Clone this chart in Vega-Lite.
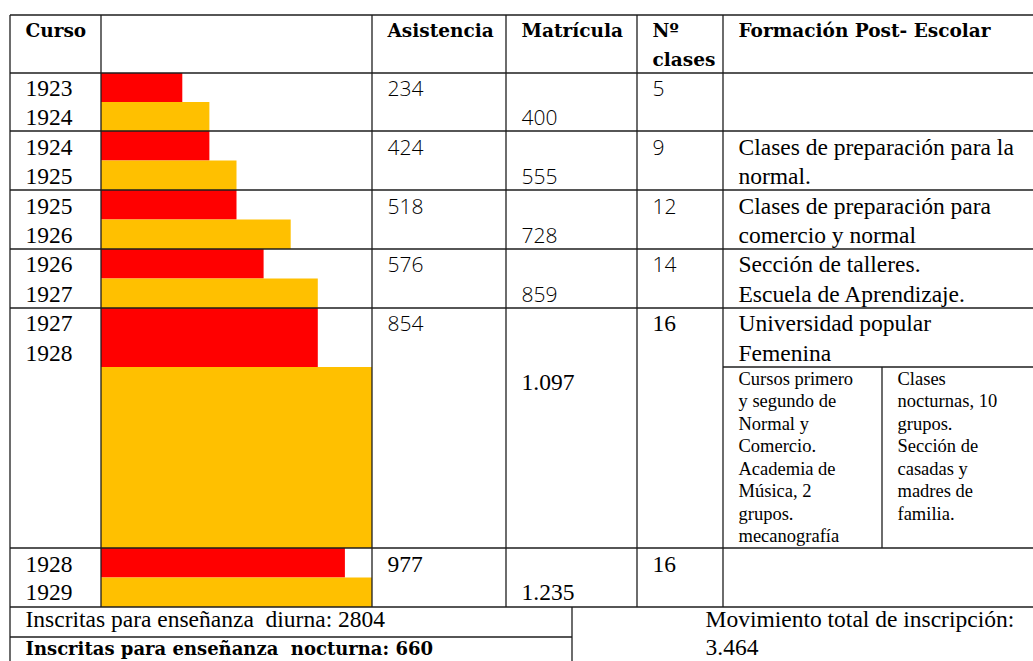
{
  "$schema": "https://vega.github.io/schema/vega-lite/v6.json",
  "width": 1033,
  "height": 661,
  "autosize": {"type": "none"},
  "padding": 0,
  "background": "white",
  "config": {"view": {"stroke": null}},
  "datasets": {
    "barras": [
      {"curso": "1923-1924", "serie": "Asistencia", "longitud": 3, "desde": 1, "hasta": 1.5},
      {"curso": "1923-1924", "serie": "Matrícula", "longitud": 4, "desde": 1.5, "hasta": 2},
      {"curso": "1924-1925", "serie": "Asistencia", "longitud": 4, "desde": 2, "hasta": 2.5},
      {"curso": "1924-1925", "serie": "Matrícula", "longitud": 5, "desde": 2.5, "hasta": 3},
      {"curso": "1925-1926", "serie": "Asistencia", "longitud": 5, "desde": 3, "hasta": 3.5},
      {"curso": "1925-1926", "serie": "Matrícula", "longitud": 7, "desde": 3.5, "hasta": 4},
      {"curso": "1926-1927", "serie": "Asistencia", "longitud": 6, "desde": 4, "hasta": 4.5},
      {"curso": "1926-1927", "serie": "Matrícula", "longitud": 8, "desde": 4.5, "hasta": 5},
      {"curso": "1927-1928", "serie": "Asistencia", "longitud": 8, "desde": 5, "hasta": 6},
      {"curso": "1927-1928", "serie": "Matrícula", "longitud": 10, "desde": 6, "hasta": 7},
      {"curso": "1928-1929", "serie": "Asistencia", "longitud": 9, "desde": 7, "hasta": 7.5},
      {"curso": "1928-1929", "serie": "Matrícula", "longitud": 10, "desde": 7.5, "hasta": 8}
    ],
    "lineas": [
      {"c1": 0, "c2": 9, "f1": 0, "f2": 0},
      {"c1": 0, "c2": 9, "f1": 1, "f2": 1},
      {"c1": 0, "c2": 9, "f1": 2, "f2": 2},
      {"c1": 0, "c2": 9, "f1": 3, "f2": 3},
      {"c1": 0, "c2": 9, "f1": 4, "f2": 4},
      {"c1": 0, "c2": 9, "f1": 5, "f2": 5},
      {"c1": 7, "c2": 9, "f1": 6, "f2": 6},
      {"c1": 0, "c2": 9, "f1": 7, "f2": 7},
      {"c1": 0, "c2": 9, "f1": 8, "f2": 8},
      {"c1": 0, "c2": 4, "f1": 9, "f2": 9},
      {"c1": 0, "c2": 0, "f1": 0, "f2": 10},
      {"c1": 1, "c2": 1, "f1": 0, "f2": 8},
      {"c1": 2, "c2": 2, "f1": 0, "f2": 8},
      {"c1": 3, "c2": 3, "f1": 0, "f2": 8},
      {"c1": 4, "c2": 4, "f1": 8, "f2": 10},
      {"c1": 5, "c2": 5, "f1": 0, "f2": 8},
      {"c1": 7, "c2": 7, "f1": 0, "f2": 8},
      {"c1": 8, "c2": 8, "f1": 6, "f2": 7}
    ],
    "celdas": [
      {"col": 0, "linea": 0, "texto": "Curso", "tipo": "encabezado"},
      {"col": 2, "linea": 0, "texto": "Asistencia", "tipo": "encabezado"},
      {"col": 3, "linea": 0, "texto": "Matrícula", "tipo": "encabezado"},
      {"col": 5, "linea": 0, "texto": "Nº", "tipo": "encabezado"},
      {"col": 5, "linea": 1, "texto": "clases", "tipo": "encabezado"},
      {"col": 7, "linea": 0, "texto": "Formación Post- Escolar", "tipo": "encabezado"},
      {"col": 0, "linea": 2, "texto": "1923", "tipo": "texto"},
      {"col": 0, "linea": 3, "texto": "1924", "tipo": "texto"},
      {"col": 2, "linea": 2, "texto": "234", "tipo": "cifra"},
      {"col": 3, "linea": 3, "texto": "400", "tipo": "cifra"},
      {"col": 5, "linea": 2, "texto": "5", "tipo": "cifra"},
      {"col": 0, "linea": 4, "texto": "1924", "tipo": "texto"},
      {"col": 0, "linea": 5, "texto": "1925", "tipo": "texto"},
      {"col": 2, "linea": 4, "texto": "424", "tipo": "cifra"},
      {"col": 3, "linea": 5, "texto": "555", "tipo": "cifra"},
      {"col": 5, "linea": 4, "texto": "9", "tipo": "cifra"},
      {"col": 7, "linea": 4, "texto": "Clases de preparación para la", "tipo": "texto"},
      {"col": 7, "linea": 5, "texto": "normal.", "tipo": "texto"},
      {"col": 0, "linea": 6, "texto": "1925", "tipo": "texto"},
      {"col": 0, "linea": 7, "texto": "1926", "tipo": "texto"},
      {"col": 2, "linea": 6, "texto": "518", "tipo": "cifra"},
      {"col": 3, "linea": 7, "texto": "728", "tipo": "cifra"},
      {"col": 5, "linea": 6, "texto": "12", "tipo": "cifra"},
      {"col": 7, "linea": 6, "texto": "Clases de preparación para", "tipo": "texto"},
      {"col": 7, "linea": 7, "texto": "comercio y normal", "tipo": "texto"},
      {"col": 0, "linea": 8, "texto": "1926", "tipo": "texto"},
      {"col": 0, "linea": 9, "texto": "1927", "tipo": "texto"},
      {"col": 2, "linea": 8, "texto": "576", "tipo": "cifra"},
      {"col": 3, "linea": 9, "texto": "859", "tipo": "cifra"},
      {"col": 5, "linea": 8, "texto": "14", "tipo": "cifra"},
      {"col": 7, "linea": 8, "texto": "Sección de talleres.", "tipo": "texto"},
      {"col": 7, "linea": 9, "texto": "Escuela de Aprendizaje.", "tipo": "texto"},
      {"col": 0, "linea": 10, "texto": "1927", "tipo": "texto"},
      {"col": 0, "linea": 11, "texto": "1928", "tipo": "texto"},
      {"col": 2, "linea": 10, "texto": "854", "tipo": "cifra"},
      {"col": 3, "linea": 12, "texto": "1.097", "tipo": "texto"},
      {"col": 5, "linea": 10, "texto": "16", "tipo": "texto"},
      {"col": 7, "linea": 10, "texto": "Universidad popular", "tipo": "texto"},
      {"col": 7, "linea": 11, "texto": "Femenina", "tipo": "texto"},
      {"col": 0, "linea": 13, "texto": "1928", "tipo": "texto"},
      {"col": 0, "linea": 14, "texto": "1929", "tipo": "texto"},
      {"col": 2, "linea": 13, "texto": "977", "tipo": "texto"},
      {"col": 3, "linea": 14, "texto": "1.235", "tipo": "texto"},
      {"col": 5, "linea": 13, "texto": "16", "tipo": "texto"},
      {"col": 0, "linea": 15, "texto": "Inscritas para enseñanza\u00a0 diurna: 2804", "tipo": "texto"},
      {"col": 0, "linea": 16, "texto": "Inscritas para enseñanza\u00a0 nocturna: 660", "tipo": "pie"},
      {"col": 6, "linea": 15, "texto": "Movimiento total de inscripción:", "tipo": "texto"},
      {"col": 6, "linea": 16, "texto": "3.464", "tipo": "texto"}
    ],
    "notas": [
      {"col": 7, "linea": 0, "texto": "Cursos primero"},
      {"col": 7, "linea": 1, "texto": "y segundo de"},
      {"col": 7, "linea": 2, "texto": "Normal y"},
      {"col": 7, "linea": 3, "texto": "Comercio."},
      {"col": 7, "linea": 4, "texto": "Academia de"},
      {"col": 7, "linea": 5, "texto": "Música, 2"},
      {"col": 7, "linea": 6, "texto": "grupos."},
      {"col": 7, "linea": 7, "texto": "mecanografía"},
      {"col": 8, "linea": 0, "texto": "Clases"},
      {"col": 8, "linea": 1, "texto": "nocturnas, 10"},
      {"col": 8, "linea": 2, "texto": "grupos."},
      {"col": 8, "linea": 3, "texto": "Sección de"},
      {"col": 8, "linea": 4, "texto": "casadas y"},
      {"col": 8, "linea": 5, "texto": "madres de"},
      {"col": 8, "linea": 6, "texto": "familia."}
    ]
  },
  "resolve": {"scale": {"x": "independent", "y": "independent", "color": "independent"}},
  "layer": [
    {
      "data": {"name": "barras"},
      "mark": {"type": "rect"},
      "encoding": {
        "x": {"field": "longitud", "type": "quantitative", "axis": null, "scale": {"domain": [0, 10], "range": [101, 372], "nice": false, "zero": false}},
        "x2": {"datum": 0},
        "y": {"field": "desde", "type": "quantitative", "axis": null, "scale": {"domain": [0, 1, 2, 3, 4, 5, 6, 7, 8, 9, 10], "range": [15, 73, 131, 190, 249, 308, 367, 548, 607, 637, 667], "nice": false, "zero": false}},
        "y2": {"field": "hasta"},
        "color": {"field": "serie", "type": "nominal", "legend": null, "scale": {"domain": ["Asistencia", "Matrícula"], "range": ["#FF0000", "#FFC000"]}}
      }
    },
    {
      "data": {"name": "lineas"},
      "mark": {"type": "rule", "color": "#1e1e1e", "strokeWidth": 1.3},
      "encoding": {
        "x": {"field": "c1", "type": "quantitative", "axis": null, "scale": {"domain": [0, 1, 2, 3, 4, 5, 6, 7, 8, 9], "range": [10, 101, 372, 506, 572, 637, 690, 723, 882, 1045], "nice": false, "zero": false}},
        "x2": {"field": "c2"},
        "y": {"field": "f1", "type": "quantitative", "axis": null, "scale": {"domain": [0, 1, 2, 3, 4, 5, 6, 7, 8, 9, 10], "range": [15, 73, 131, 190, 249, 308, 367, 548, 607, 637, 667], "nice": false, "zero": false}},
        "y2": {"field": "f2"}
      }
    },
    {
      "data": {"name": "celdas"},
      "transform": [{"filter": "datum.tipo === 'encabezado'"}],
      "mark": {"type": "text", "align": "left", "baseline": "alphabetic", "dx": 15.5, "font": "DejaVu Serif", "fontWeight": "bold", "fontSize": 18.5, "color": "#000"},
      "encoding": {
        "x": {"field": "col", "type": "quantitative", "axis": null, "scale": {"domain": [0, 1, 2, 3, 4, 5, 6, 7, 8, 9], "range": [10, 101, 372, 506, 572, 637, 690, 723, 882, 1045], "nice": false, "zero": false}},
        "y": {"field": "linea", "type": "quantitative", "axis": null, "scale": {"domain": [0, 12, 13, 16], "range": [37, 390, 572, 655], "nice": false, "zero": false}},
        "text": {"field": "texto"}
      }
    },
    {
      "data": {"name": "celdas"},
      "transform": [{"filter": "datum.tipo === 'texto'"}],
      "mark": {"type": "text", "align": "left", "baseline": "alphabetic", "dx": 15.5, "font": "Liberation Serif", "fontSize": 23.5, "color": "#000"},
      "encoding": {
        "x": {"field": "col", "type": "quantitative", "axis": null, "scale": {"domain": [0, 1, 2, 3, 4, 5, 6, 7, 8, 9], "range": [10, 101, 372, 506, 572, 637, 690, 723, 882, 1045], "nice": false, "zero": false}},
        "y": {"field": "linea", "type": "quantitative", "axis": null, "scale": {"domain": [0, 12, 13, 16], "range": [37, 390, 572, 655], "nice": false, "zero": false}},
        "text": {"field": "texto"}
      }
    },
    {
      "data": {"name": "celdas"},
      "transform": [{"filter": "datum.tipo === 'cifra'"}],
      "mark": {"type": "text", "align": "left", "baseline": "alphabetic", "dx": 15.5, "font": "Open Sans", "fontWeight": 300, "fontSize": 21, "color": "#000"},
      "encoding": {
        "x": {"field": "col", "type": "quantitative", "axis": null, "scale": {"domain": [0, 1, 2, 3, 4, 5, 6, 7, 8, 9], "range": [10, 101, 372, 506, 572, 637, 690, 723, 882, 1045], "nice": false, "zero": false}},
        "y": {"field": "linea", "type": "quantitative", "axis": null, "scale": {"domain": [0, 12, 13, 16], "range": [37, 390, 572, 655], "nice": false, "zero": false}},
        "text": {"field": "texto"}
      }
    },
    {
      "data": {"name": "celdas"},
      "transform": [{"filter": "datum.tipo === 'pie'"}],
      "mark": {"type": "text", "align": "left", "baseline": "alphabetic", "dx": 15.5, "font": "DejaVu Serif", "fontWeight": "bold", "fontSize": 18, "color": "#000"},
      "encoding": {
        "x": {"field": "col", "type": "quantitative", "axis": null, "scale": {"domain": [0, 1, 2, 3, 4, 5, 6, 7, 8, 9], "range": [10, 101, 372, 506, 572, 637, 690, 723, 882, 1045], "nice": false, "zero": false}},
        "y": {"field": "linea", "type": "quantitative", "axis": null, "scale": {"domain": [0, 12, 13, 16], "range": [37, 390, 572, 655], "nice": false, "zero": false}},
        "text": {"field": "texto"}
      }
    },
    {
      "data": {"name": "notas"},
      "mark": {"type": "text", "align": "left", "baseline": "alphabetic", "dx": 15.5, "font": "Liberation Serif", "fontSize": 18.5, "color": "#000"},
      "encoding": {
        "x": {"field": "col", "type": "quantitative", "axis": null, "scale": {"domain": [0, 1, 2, 3, 4, 5, 6, 7, 8, 9], "range": [10, 101, 372, 506, 572, 637, 690, 723, 882, 1045], "nice": false, "zero": false}},
        "y": {"field": "linea", "type": "quantitative", "axis": null, "scale": {"domain": [0, 7], "range": [385, 542], "nice": false, "zero": false}},
        "text": {"field": "texto"}
      }
    }
  ]
}
